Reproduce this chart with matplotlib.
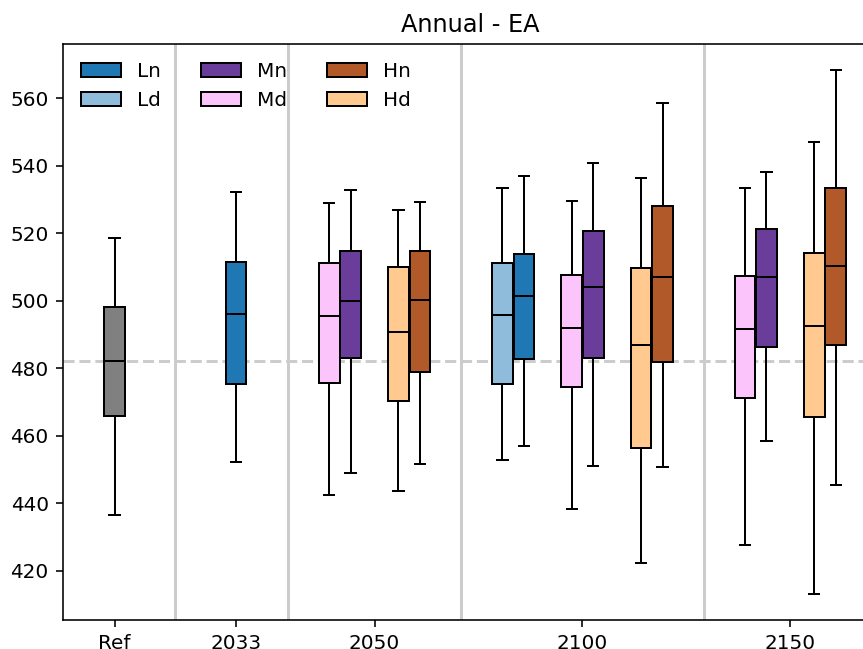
import matplotlib
matplotlib.use('Agg')
import matplotlib.pyplot as plt
from matplotlib.patches import Patch

# five-number summaries: whisker low, Q1, median, Q3, whisker high
ref_stats = [436.4, 465.8, 482.1, 498.0, 518.6]

ln_stats = {'2033': [452.3, 475.4, 496.1, 511.4, 532.2],
            '2100': [457.0, 482.7, 501.3, 513.8, 536.9]}
ld_stats = {'2100': [452.7, 475.4, 495.6, 511.1, 533.4]}
mn_stats = {'2050': [448.8, 483.1, 500.0, 514.6, 532.8],
            '2100': [451.0, 483.1, 504.0, 520.7, 540.8],
            '2150': [458.5, 486.4, 507.1, 521.2, 538.1]}
md_stats = {'2050': [442.3, 475.6, 495.4, 511.2, 528.9],
            '2100': [438.2, 474.3, 492.0, 507.7, 529.4],
            '2150': [427.5, 471.0, 491.5, 507.3, 533.4]}
hn_stats = {'2050': [451.6, 478.7, 500.3, 514.8, 529.2],
            '2100': [450.6, 481.7, 507.1, 528.1, 558.7],
            '2150': [445.3, 486.9, 510.3, 533.4, 568.3]}
hd_stats = {'2050': [443.5, 470.2, 490.8, 509.9, 527.0],
            '2100': [422.2, 456.4, 486.8, 509.6, 536.4],
            '2150': [413.1, 465.4, 492.5, 514.2, 547.0]}

years = ['2033', '2050', '2100', '2150']
scenarios = ['L', 'M', 'H']
series = {'L': (ld_stats, ln_stats), 'M': (md_stats, mn_stats), 'H': (hd_stats, hn_stats)}
colors = {'Ln': '#1f77b4', 'Ld': '#8fbcdb',
          'Mn': '#6a3d9a', 'Md': '#fbc4fb',
          'Hn': '#b15928', 'Hd': '#ffc98f'}
ref_color = '#808080'

# layout (x units: one unit per d/n pair)
group_start = {'2033': 1.75, '2050': 3.25, '2100': 5.75, '2150': 9.25}
width = 0.3
off = 0.155


def to_stat(v):
    return dict(whislo=v[0], q1=v[1], med=v[2], q3=v[3], whishi=v[4], fliers=[])


fig = plt.figure(figsize=(863 / 144, 649 / 144), dpi=144)
ax = fig.add_axes([62.7 / 863, 29 / 649, 814.3 / 863, 576 / 649])

box_kw = dict(widths=width, patch_artist=True, showfliers=False,
              medianprops=dict(color='black', linewidth=1),
              boxprops=dict(edgecolor='black', linewidth=1),
              whiskerprops=dict(color='black', linewidth=1),
              capprops=dict(color='black', linewidth=1))


def draw(stat, x, color):
    b = ax.bxp([to_stat(stat)], positions=[x], **box_kw)
    for p in b['boxes']:
        p.set_facecolor(color)


draw(ref_stats, 0, ref_color)

tick_pos = [0]
first_last = [(0, 0)]
for yr in years:
    x = group_start[yr]
    centers = []
    for s in scenarios:
        d_stats, n_stats = series[s]
        has_d = yr in d_stats
        has_n = yr in n_stats
        if not (has_d or has_n):
            continue
        if has_d and has_n:
            draw(d_stats[yr], x - off, colors[s + 'd'])
            draw(n_stats[yr], x + off, colors[s + 'n'])
        elif has_n:
            draw(n_stats[yr], x, colors[s + 'n'])
        else:
            draw(d_stats[yr], x, colors[s + 'd'])
        centers.append(x)
        x += 1
    tick_pos.append(sum(centers) / len(centers))
    first_last.append((centers[0], centers[-1]))

# separators between groups
for i in range(len(first_last) - 1):
    ax.axvline((first_last[i][1] + first_last[i + 1][0]) / 2,
               color='#cccccc', linewidth=1.5, zorder=0)

ax.axhline(ref_stats[2], color='#cccccc', linestyle='--', linewidth=1.5, zorder=0)

ax.set_xticks(tick_pos)
ax.set_xticklabels(['Ref'] + years)
ax.set_xlim(-0.75, 11.0)
ax.set_title('Annual - EA')

handles = []
for s in scenarios:
    handles.append(Patch(facecolor=colors[s + 'n'], edgecolor='black', label=s + 'n'))
    handles.append(Patch(facecolor=colors[s + 'd'], edgecolor='black', label=s + 'd'))
ax.legend(handles=handles, loc='upper left', ncol=3, frameon=False)

fig.savefig('out.png', dpi=144)
